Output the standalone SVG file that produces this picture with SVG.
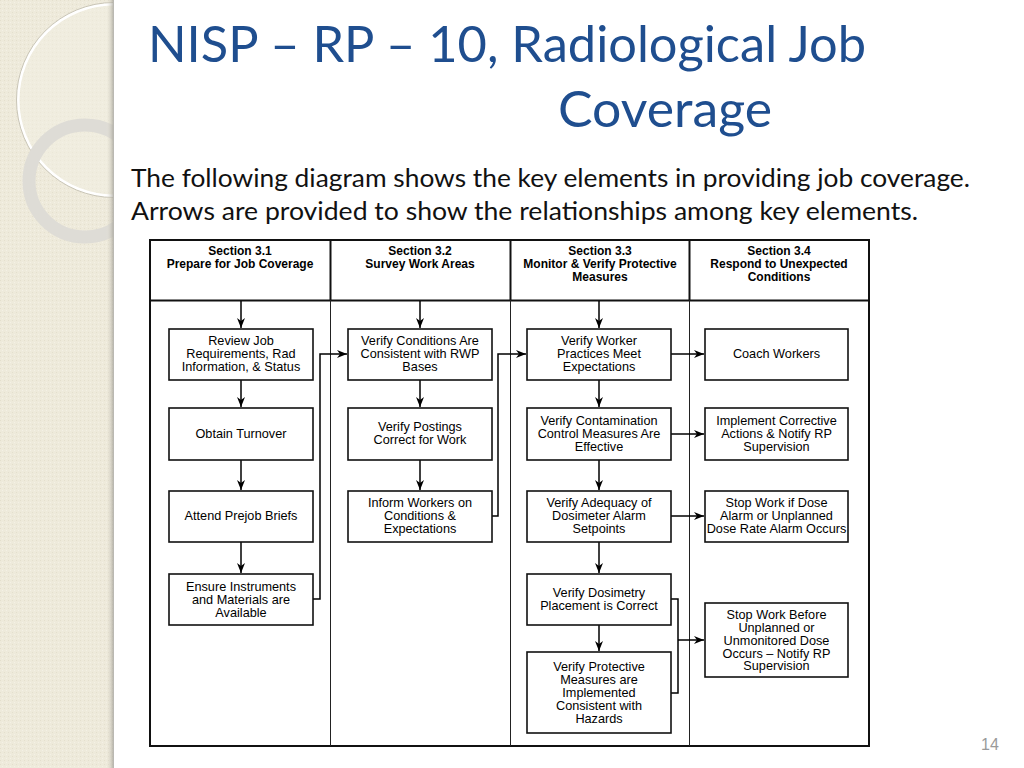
<svg xmlns="http://www.w3.org/2000/svg" width="1024" height="768" viewBox="0 0 1024 768">
<style>
.title{font-family:"Gill Sans","Lato","Liberation Sans",sans-serif;fill:#1F4E8F;font-size:50px}
.sub{font-family:"Gill Sans","Lato","Liberation Sans",sans-serif;fill:#111;font-size:25px}
.hd{font-family:"Liberation Sans",sans-serif;font-weight:bold;font-size:12px;fill:#000;text-anchor:middle}
.tx{font-family:"Liberation Sans",sans-serif;font-size:12.7px;fill:#000;text-anchor:middle}
.box{fill:#fff;stroke:#111;stroke-width:1.6}
.frame{fill:none;stroke:#111;stroke-width:2}
.div{stroke:#222;stroke-width:1}
.con{fill:none;stroke:#000;stroke-width:1.5}
.arr{fill:none;stroke:#000;stroke-width:1.5;marker-end:url(#ah)}
</style>
<defs>
<marker id="ah" viewBox="0 0 10 8" refX="10" refY="4" markerWidth="10" markerHeight="8" markerUnits="userSpaceOnUse" orient="auto">
<path d="M0,0 L10,4 L0,8 L3,4 z" fill="#000"/>
</marker>
<pattern id="tex" width="4" height="4" patternUnits="userSpaceOnUse">
<rect width="4" height="4" fill="#EEEADB"/>
<rect x="0" y="0" width="1" height="1" fill="#E4DFCD"/>
<rect x="2" y="2" width="1" height="1" fill="#F4F1E6"/>
</pattern>
<linearGradient id="sh" x1="0" y1="0" x2="1" y2="0">
<stop offset="0" stop-color="#EEEADB" stop-opacity="0"/>
<stop offset="1" stop-color="#9E9C94" stop-opacity="0.8"/>
</linearGradient>
<clipPath id="pc"><rect x="0" y="0" width="113" height="768"/></clipPath>
</defs>
<rect width="1024" height="768" fill="#fff"/>
<g id="background-panel">
<rect x="0" y="0" width="113" height="768" fill="url(#tex)"/>
<g clip-path="url(#pc)">
<circle cx="114" cy="100" r="96" fill="#F2EFE4" fill-opacity="0.5" stroke="#FFFFFF" stroke-width="3"/>
<circle cx="114" cy="100" r="97.5" fill="none" stroke="#C9C5B6" stroke-width="1"/>
<circle cx="85" cy="181" r="56" fill="none" stroke="#DEDCD6" stroke-width="13"/>
</g>
<rect x="106" y="0" width="8" height="768" fill="url(#sh)"/>
</g>
<g id="title">
<text class="title" x="148" y="62" textLength="718" lengthAdjust="spacingAndGlyphs">NISP – RP – 10, Radiological Job</text>
<text class="title" x="558" y="127" textLength="214" lengthAdjust="spacingAndGlyphs">Coverage</text>
</g>
<g id="subtitle">
<text class="sub" x="131" y="187" textLength="839" lengthAdjust="spacingAndGlyphs">The following diagram shows the key elements in providing job coverage.</text>
<text class="sub" x="131" y="220" textLength="787" lengthAdjust="spacingAndGlyphs">Arrows are provided to show the relationships among key elements.</text>
</g>
<g id="frame">
<rect class="frame" x="150" y="240" width="719" height="506"/>
<line class="frame" x1="150" y1="300.5" x2="869" y2="300.5"/>
<line class="frame" x1="330.5" y1="240" x2="330.5" y2="300.5"/>
<line class="frame" x1="510.5" y1="240" x2="510.5" y2="300.5"/>
<line class="frame" x1="689.5" y1="240" x2="689.5" y2="300.5"/>
<line class="div" x1="330.5" y1="300" x2="330.5" y2="746"/>
<line class="div" x1="510.5" y1="300" x2="510.5" y2="746"/>
<line class="div" x1="689.5" y1="300" x2="689.5" y2="746"/>
</g>
<g id="headers">
<text class="hd" x="240" y="255">Section 3.1</text>
<text class="hd" x="240" y="268">Prepare for Job Coverage</text>
<text class="hd" x="420" y="255">Section 3.2</text>
<text class="hd" x="420" y="268">Survey Work Areas</text>
<text class="hd" x="600" y="255">Section 3.3</text>
<text class="hd" x="600" y="268">Monitor &amp; Verify Protective</text>
<text class="hd" x="600" y="281">Measures</text>
<text class="hd" x="779" y="255">Section 3.4</text>
<text class="hd" x="779" y="268">Respond to Unexpected</text>
<text class="hd" x="779" y="281">Conditions</text>
</g>
<g id="connectors">
<line class="arr" x1="241" y1="301" x2="241" y2="328"/>
<line class="arr" x1="420" y1="301" x2="420" y2="328"/>
<line class="arr" x1="599" y1="301" x2="599" y2="328"/>
<line class="arr" x1="241" y1="380" x2="241" y2="407"/>
<line class="arr" x1="241" y1="460" x2="241" y2="490"/>
<line class="arr" x1="241" y1="542" x2="241" y2="573"/>
<line class="arr" x1="420" y1="380" x2="420" y2="407"/>
<line class="arr" x1="420" y1="460" x2="420" y2="490"/>
<line class="arr" x1="599" y1="380" x2="599" y2="407"/>
<line class="arr" x1="599" y1="460" x2="599" y2="490"/>
<line class="arr" x1="599" y1="542" x2="599" y2="573"/>
<line class="arr" x1="599" y1="625" x2="599" y2="651"/>
<line class="arr" x1="671" y1="354" x2="704" y2="354"/>
<line class="arr" x1="671" y1="434" x2="704" y2="434"/>
<line class="arr" x1="671" y1="516" x2="704" y2="516"/>
<polyline class="arr" points="313,599 320,599 320,354 347,354"/>
<polyline class="arr" points="492,516 498,516 498,354 526,354"/>
<polyline class="con" points="671,599 678,599 678,693 671,693"/>
<line class="arr" x1="678" y1="640" x2="704" y2="640"/>
</g>
<g id="n-review">
<rect class="box" x="169" y="329" width="144" height="51"/>
<text class="tx" x="241" y="345">Review Job</text>
<text class="tx" x="241" y="358">Requirements, Rad</text>
<text class="tx" x="241" y="371">Information, &amp; Status</text>
</g>
<g id="n-turnover">
<rect class="box" x="169" y="408" width="144" height="52"/>
<text class="tx" x="241" y="438">Obtain Turnover</text>
</g>
<g id="n-prejob">
<rect class="box" x="169" y="491" width="144" height="51"/>
<text class="tx" x="241" y="520">Attend Prejob Briefs</text>
</g>
<g id="n-instruments">
<rect class="box" x="169" y="574" width="144" height="51"/>
<text class="tx" x="241" y="591">Ensure Instruments</text>
<text class="tx" x="241" y="604">and Materials are</text>
<text class="tx" x="241" y="617">Available</text>
</g>
<g id="n-conditions">
<rect class="box" x="348" y="329" width="144" height="51"/>
<text class="tx" x="420" y="345">Verify Conditions Are</text>
<text class="tx" x="420" y="358">Consistent with RWP</text>
<text class="tx" x="420" y="371">Bases</text>
</g>
<g id="n-postings">
<rect class="box" x="348" y="408" width="144" height="52"/>
<text class="tx" x="420" y="431">Verify Postings</text>
<text class="tx" x="420" y="444">Correct for Work</text>
</g>
<g id="n-inform">
<rect class="box" x="348" y="491" width="144" height="51"/>
<text class="tx" x="420" y="507">Inform Workers on</text>
<text class="tx" x="420" y="520">Conditions &amp;</text>
<text class="tx" x="420" y="533">Expectations</text>
</g>
<g id="n-practices">
<rect class="box" x="527" y="329" width="144" height="51"/>
<text class="tx" x="599" y="345">Verify Worker</text>
<text class="tx" x="599" y="358">Practices Meet</text>
<text class="tx" x="599" y="371">Expectations</text>
</g>
<g id="n-contamination">
<rect class="box" x="527" y="408" width="144" height="52"/>
<text class="tx" x="599" y="425">Verify Contamination</text>
<text class="tx" x="599" y="438">Control Measures Are</text>
<text class="tx" x="599" y="451">Effective</text>
</g>
<g id="n-adequacy">
<rect class="box" x="527" y="491" width="144" height="51"/>
<text class="tx" x="599" y="507">Verify Adequacy of</text>
<text class="tx" x="599" y="520">Dosimeter Alarm</text>
<text class="tx" x="599" y="533">Setpoints</text>
</g>
<g id="n-dosimetry">
<rect class="box" x="527" y="574" width="144" height="51"/>
<text class="tx" x="599" y="597">Verify Dosimetry</text>
<text class="tx" x="599" y="610">Placement is Correct</text>
</g>
<g id="n-protective">
<rect class="box" x="527" y="652" width="144" height="81"/>
<text class="tx" x="599" y="671">Verify Protective</text>
<text class="tx" x="599" y="684">Measures are</text>
<text class="tx" x="599" y="697">Implemented</text>
<text class="tx" x="599" y="710">Consistent with</text>
<text class="tx" x="599" y="723">Hazards</text>
</g>
<g id="n-coach">
<rect class="box" x="705" y="329" width="143" height="51"/>
<text class="tx" x="776.5" y="358">Coach Workers</text>
</g>
<g id="n-corrective">
<rect class="box" x="705" y="408" width="143" height="52"/>
<text class="tx" x="776.5" y="425">Implement Corrective</text>
<text class="tx" x="776.5" y="438">Actions &amp; Notify RP</text>
<text class="tx" x="776.5" y="451">Supervision</text>
</g>
<g id="n-stopalarm">
<rect class="box" x="705" y="491" width="143" height="51"/>
<text class="tx" x="776.5" y="507">Stop Work if Dose</text>
<text class="tx" x="776.5" y="520">Alarm or Unplanned</text>
<text class="tx" x="776.5" y="533">Dose Rate Alarm Occurs</text>
</g>
<g id="n-stopbefore">
<rect class="box" x="705" y="603" width="143" height="74"/>
<text class="tx" x="776.5" y="619">Stop Work Before</text>
<text class="tx" x="776.5" y="632">Unplanned or</text>
<text class="tx" x="776.5" y="645">Unmonitored Dose</text>
<text class="tx" x="776.5" y="658">Occurs – Notify RP</text>
<text class="tx" x="776.5" y="670">Supervision</text>
</g>
<text x="990" y="750" font-family="'Liberation Sans',sans-serif" font-size="16" fill="#9A9A9A" text-anchor="middle">14</text>
</svg>
